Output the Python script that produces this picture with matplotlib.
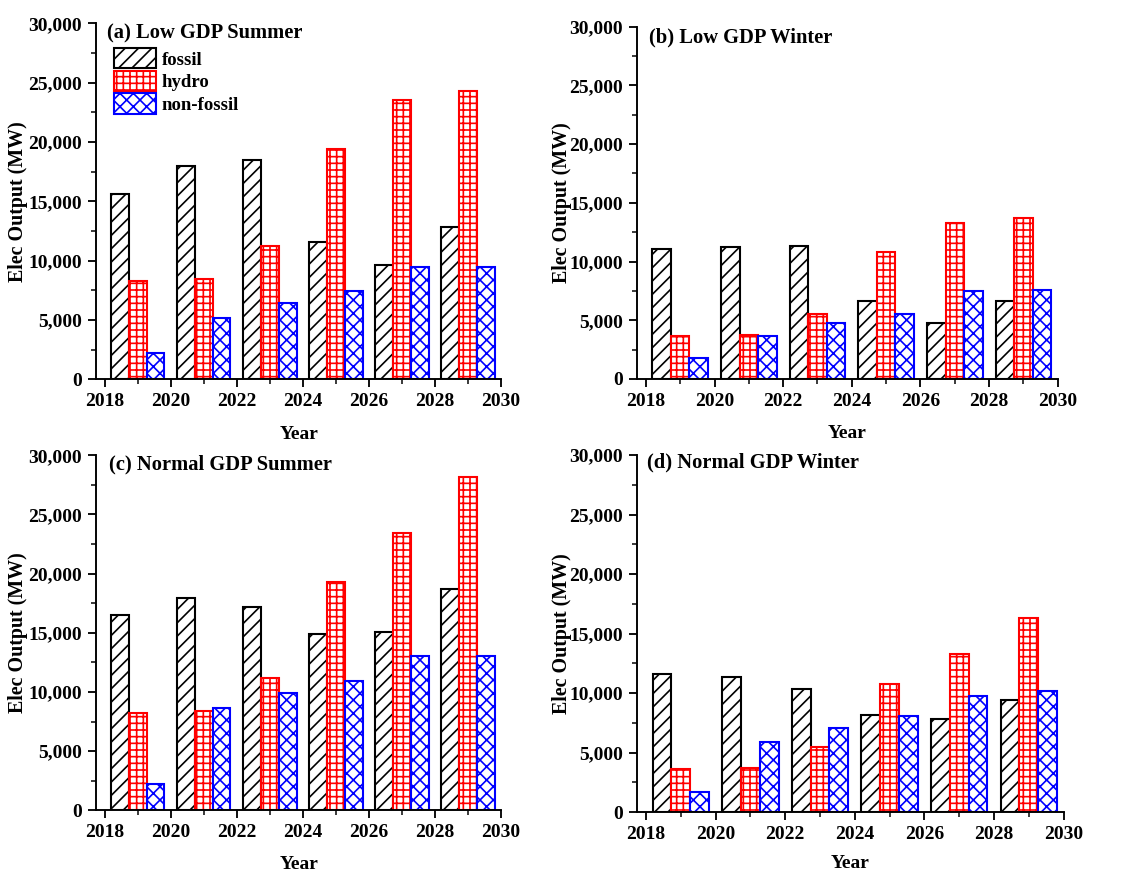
import numpy as np
import matplotlib
matplotlib.use("Agg")
import matplotlib.pyplot as plt
from matplotlib.ticker import MultipleLocator, FuncFormatter

plt.rcParams['font.family'] = ['Liberation Serif', 'DejaVu Serif']
plt.rcParams['font.weight'] = 'bold'
plt.rcParams['hatch.linewidth'] = 1.0

years = [2019, 2021, 2023, 2025, 2027, 2029]
sources = ['fossil', 'hydro', 'non-fossil']

# electricity output (MW) per scenario
low_summer_fossil = [15600, 18000, 18500, 11600, 9600, 12800]
low_summer_hydro = [8300, 8450, 11200, 19400, 23500, 24300]
low_summer_nonfossil = [2200, 5150, 6400, 7450, 9450, 9500]

low_winter_fossil = [11100, 11200, 11300, 6650, 4750, 6600]
low_winter_hydro = [3650, 3750, 5550, 10850, 13300, 13700]
low_winter_nonfossil = [1750, 3650, 4800, 5500, 7500, 7550]

normal_summer_fossil = [16500, 17900, 17150, 14900, 15050, 18700]
normal_summer_hydro = [8250, 8400, 11150, 19300, 23450, 28200]
normal_summer_nonfossil = [2200, 8650, 9900, 10950, 13000, 13050]

normal_winter_fossil = [11600, 11350, 10350, 8150, 7800, 9450]
normal_winter_hydro = [3650, 3750, 5500, 10800, 13250, 16300]
normal_winter_nonfossil = [1700, 5900, 7050, 8100, 9800, 10200]

panels = [
    ('(a) Low GDP Summer', [low_summer_fossil, low_summer_hydro, low_summer_nonfossil]),
    ('(b) Low GDP Winter', [low_winter_fossil, low_winter_hydro, low_winter_nonfossil]),
    ('(c) Normal GDP Summer', [normal_summer_fossil, normal_summer_hydro, normal_summer_nonfossil]),
    ('(d) Normal GDP Winter', [normal_winter_fossil, normal_winter_hydro, normal_winter_nonfossil]),
]

edge_colors = ['black', '#ff0000', '#0000ff']
hatches = ['///', '+++', 'xxx']

# axes rectangles [left, bottom, width, height]
rects = [
    [0.0854, 0.565, 0.3588, 0.4083],
    [0.565, 0.5654, 0.3727, 0.404],
    [0.0854, 0.0708, 0.3588, 0.4071],
    [0.565, 0.0685, 0.378, 0.4097],
]
title_pos = [(0.026, 0.972), (0.028, 0.970), (0.031, 0.975), (0.023, 0.978)]
ylabel_x = [-0.169, -0.155, -0.169, -0.153]
xlabel_y = [-0.13, -0.13, -0.13, -0.12]

# dpi 120 keeps the hatch spacing close to 6-7 px
fig = plt.figure(figsize=(9.4, 872 / 120), dpi=120)
width = 0.54
x = np.array(years)

for i, (title, series) in enumerate(panels):
    ax = fig.add_axes(rects[i])
    for j, vals in enumerate(series):
        ax.bar(x + (j - 1) * width, vals, width=width, color='white',
               edgecolor=edge_colors[j], hatch=hatches[j], linewidth=1.25,
               label=sources[j], zorder=2)

    ax.set_xlim(2017.75, 2030)
    ax.set_ylim(0, 30000)
    ax.xaxis.set_major_locator(MultipleLocator(2))
    ax.xaxis.set_minor_locator(MultipleLocator(1))
    ax.yaxis.set_major_locator(MultipleLocator(5000))
    ax.yaxis.set_minor_locator(MultipleLocator(2500))
    ax.yaxis.set_major_formatter(FuncFormatter(lambda v, p: f'{int(v):,}'))
    ax.tick_params(which='major', direction='out', length=5, width=1.1, labelsize=11.7)
    ax.tick_params(which='minor', direction='out', length=2.9, width=0.9)
    for lbl in ax.get_xticklabels() + ax.get_yticklabels():
        lbl.set_fontweight('bold')

    ax.spines['top'].set_visible(False)
    ax.spines['right'].set_visible(False)
    ax.spines['left'].set_linewidth(1.15)
    ax.spines['bottom'].set_linewidth(1.15)

    ax.set_xlabel('Year', fontsize=11.7, fontweight='bold')
    ax.set_ylabel('Elec Output (MW)', fontsize=12, fontweight='bold')
    ax.xaxis.set_label_coords(0.5, xlabel_y[i])
    ax.yaxis.set_label_coords(ylabel_x[i], 0.5)

    ax.text(title_pos[i][0], title_pos[i][1], title, transform=ax.transAxes,
            fontsize=12.3, fontweight='bold', ha='left', va='center')

    if i == 0:
        ax.legend(loc='upper left', bbox_to_anchor=(0.0437, 0.93), frameon=False,
                  handlelength=2.24, handleheight=1.28, labelspacing=0.12,
                  handletextpad=0.3, borderpad=0, borderaxespad=0,
                  prop={'weight': 'bold', 'size': 11.25})

fig.savefig('out.png', dpi=120)
